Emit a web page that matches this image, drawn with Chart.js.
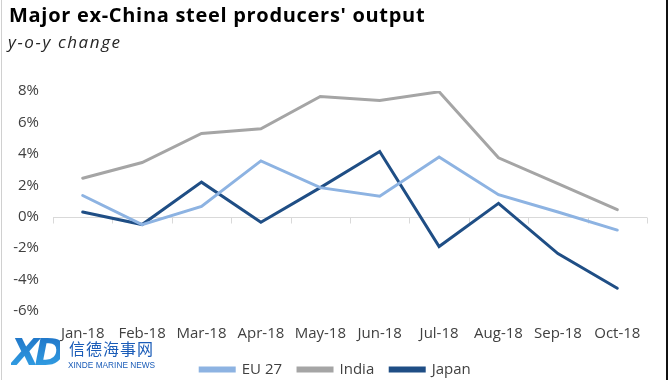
<!DOCTYPE html>
<html>
<head>
<meta charset="utf-8">
<script src="https://cdn.jsdelivr.net/npm/chart.js@4.4.1/dist/chart.umd.min.js"></script>
<style>
  html, body { margin: 0; padding: 0; background: #fff; }
  #wrap { position: relative; width: 670px; height: 380px; overflow: hidden; background: #fff; }
  #c { position: absolute; left: 0; top: 0; }
  .title { position: absolute; left: 9px; top: 1px; font-family: "Open Sans", sans-serif; font-weight: 700; font-size: 20px; letter-spacing: 0.7px; color: #000; white-space: nowrap; }
  .sub { position: absolute; left: 8px; top: 30px; font-family: "Open Sans", sans-serif; font-style: italic; font-size: 17px; letter-spacing: 1.6px; color: #262626; white-space: nowrap; }
  .bl { position: absolute; left: 1px; top: 0; width: 1px; height: 380px; background: #d0d0d0; }
  .br { position: absolute; left: 666px; top: 0; width: 2px; height: 380px; background: #111; }
  .logoXD { position: absolute; left: 11px; top: 331px; font-family: "DejaVu Sans", sans-serif; font-weight: 900; font-style: italic; font-size: 37px; letter-spacing: -5px;
            background: linear-gradient(#1d6fc4, #35a6e8); -webkit-background-clip: text; background-clip: text; color: transparent; }
  .logoCN { position: absolute; left: 69px; top: 336px; font-family: "Noto Sans CJK SC", sans-serif; font-size: 16px; color: #1a5cb8; letter-spacing: 1px; white-space: nowrap; }
  .logoEN { position: absolute; left: 68px; top: 360px; font-family: "Liberation Sans", sans-serif; font-size: 8.3px; color: #1a5cb8; white-space: nowrap; }
</style>
</head>
<body>
<div id="wrap">
  <canvas id="c" width="670" height="380"></canvas>
  <div class="title">Major ex-China steel producers' output</div>
  <div class="sub">y-o-y change</div>
  <div class="bl"></div>
  <div class="br"></div>
  <div class="logoXD">XD</div>
  <div class="logoCN">信德海事网</div>
  <div class="logoEN">XINDE MARINE NEWS</div>
</div>
<script>
const categories = ["Jan-18","Feb-18","Mar-18","Apr-18","May-18","Jun-18","Jul-18","Aug-18","Sep-18","Oct-18"];
const eu27  = [1.35, -0.5, 0.65, 3.55, 1.85, 1.3, 3.8, 1.4, 0.3, -0.85];
const india = [2.45, 3.45, 5.3, 5.6, 7.65, 7.4, 7.95, 3.75, 2.1, 0.45];
const japan = [0.3, -0.5, 2.2, -0.35, 1.85, 4.15, -1.9, 0.85, -2.35, -4.55];
const yTicks = [-6, -4, -2, 0, 2, 4, 6, 8];

const zeroLine = {
  id: 'zeroLine',
  beforeDatasetsDraw(chart) {
    const x = chart.scales.x, y = chart.scales.y, ctx = chart.ctx;
    const y0 = Math.round(y.getPixelForValue(0)) + 0.5;
    ctx.save();
    ctx.strokeStyle = '#d9d9d9';
    ctx.lineWidth = 1;
    ctx.beginPath();
    ctx.moveTo(chart.chartArea.left, y0);
    ctx.lineTo(chart.chartArea.right, y0);
    const n = categories.length;
    const step = x.getPixelForValue(1) - x.getPixelForValue(0);
    for (let i = 0; i <= n; i++) {
      const bx = Math.round(x.getPixelForValue(i) - step / 2) + 0.5;
      ctx.moveTo(bx, y0);
      ctx.lineTo(bx, y0 + 6);
    }
    ctx.stroke();
    ctx.restore();
  }
};

const legendShift = {
  id: 'legendShift',
  afterLayout(chart) {
    if (chart.legend) { chart.legend.left += 12; chart.legend.right += 12; }
  }
};

new Chart(document.getElementById('c'), {
  type: 'line',
  data: {
    labels: categories,
    datasets: [
      { label: 'EU 27', data: eu27, borderColor: '#8db3e2', backgroundColor: '#8db3e2', borderWidth: 3 },
      { label: 'India', data: india, borderColor: '#a5a5a5', backgroundColor: '#a5a5a5', borderWidth: 3 },
      { label: 'Japan', data: japan, borderColor: '#1f4e85', backgroundColor: '#1f4e85', borderWidth: 3 }
    ]
  },
  options: {
    responsive: false,
    animation: false,
    devicePixelRatio: 1,
    elements: { point: { radius: 0 }, line: { tension: 0, borderCapStyle: 'round', borderJoinStyle: 'miter' } },
    layout: { padding: { left: 0, right: 23, top: 91, bottom: -7 } },
    plugins: {
      legend: {
        position: 'bottom',
        labels: {
          font: { family: 'Open Sans', size: 15 },
          color: '#404040',
          boxWidth: 34,
          boxHeight: 3,
          padding: 16
        }
      },
      tooltip: { enabled: false }
    },
    scales: {
      x: {
        offset: true,
        grid: { display: false, drawTicks: false },
        border: { display: false },
        ticks: { font: { family: 'Open Sans', size: 15 }, color: '#404040', padding: 14, maxRotation: 0, autoSkip: false },
        afterFit(s) { s.height = 35; }
      },
      y: {
        min: -6, max: 8,
        afterBuildTicks(s) { s.ticks = yTicks.map(v => ({ value: v })); },
        grid: { display: false, drawTicks: false },
        border: { display: false },
        ticks: { font: { family: 'Open Sans', size: 15 }, color: '#404040', padding: 14, callback: v => v + '%' },
        afterFit(s) { s.width = 53; }
      }
    }
  },
  plugins: [zeroLine, legendShift]
});
</script>
</body>
</html>
